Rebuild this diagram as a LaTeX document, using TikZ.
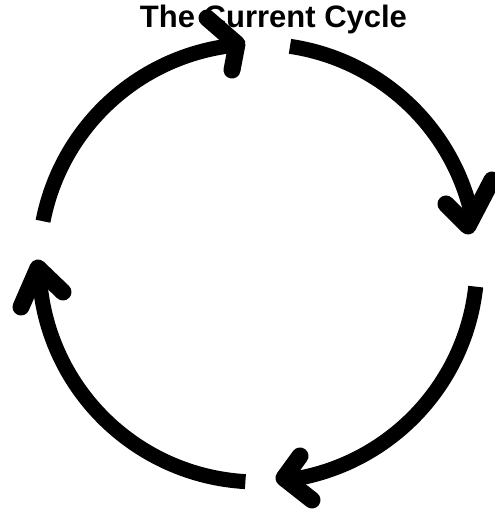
\documentclass[tikz,border=0pt]{standalone}
\usepackage{fontspec}
\setmainfont{Liberation Sans}
\begin{document}
\begin{tikzpicture}[x=1pt,y=1pt,
  shaft/.style={line width=15pt},
  chevron/.style={line width=17pt,line cap=round,line join=round},
  titlestyle/.style={font=\fontsize{31}{36}\selectfont\bfseries,inner sep=0pt,anchor=base}]
\useasboundingbox (0,0) rectangle (495,514);
\fill[white] (0,0) rectangle (495,514);
\coordinate (c) at (258,251);
\node[titlestyle] (title) at (273.5,486) {The Current Cycle};
% chevron points
\coordinate (t1) at (207,496); \coordinate (tv) at (237,470); \coordinate (t2) at (232,444);
\coordinate (r1) at (446,310); \coordinate (rv) at (468,288); \coordinate (r2) at (492,334);
\coordinate (b1) at (300,58);  \coordinate (bv) at (284,36);  \coordinate (b2) at (312,14);
\coordinate (l1) at (21,207);  \coordinate (lv) at (38,246);  \coordinate (l2) at (63,222);
% shafts
\draw[shaft] ([shift={(169:219)}]c) arc[start angle=169,end angle=99,radius=219] -- (tv);
\draw[shaft] ([shift={(81.6:219)}]c) arc[start angle=81.6,end angle=14,radius=219] -- (rv);
\draw[shaft] ([shift={(-6.2:219)}]c) arc[start angle=-6.2,end angle=-79,radius=219] -- (bv);
\draw[shaft] ([shift={(266.7:219)}]c) arc[start angle=266.7,end angle=185,radius=219] -- (lv);
% heads
\draw[chevron] (t1) -- (tv) -- (t2);
\draw[chevron] (r1) -- (rv) -- (r2);
\draw[chevron] (b1) -- (bv) -- (b2);
\draw[chevron] (l1) -- (lv) -- (l2);
\end{tikzpicture}
\end{document}
